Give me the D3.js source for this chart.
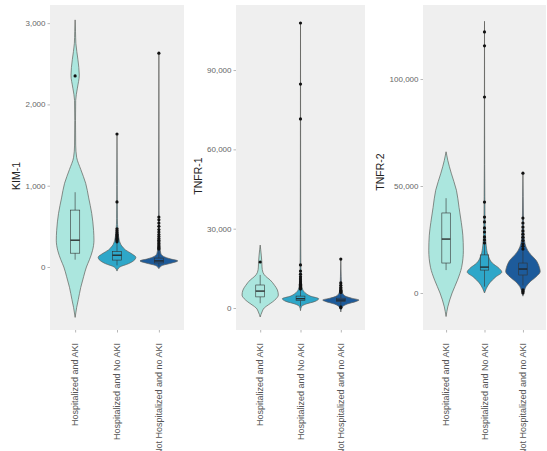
<!DOCTYPE html>
<html><head><meta charset="utf-8">
<script src="https://cdn.jsdelivr.net/npm/d3@7"></script>
<style>
html,body{margin:0;padding:0;background:#fff;}
svg{display:block;font-family:"Liberation Sans",Arial,sans-serif;}
</style></head>
<body>
<svg id="chart" width="547" height="451"></svg>
<script>
// ---------- DATA ----------
const categories = ["Hospitalized and AKI", "Hospitalized and No AKI", "Not Hospitalized and no AKI"];
const measures = ["KIM-1", "TNFR-1", "TNFR-2"];

// axis limits and ticks
const kim1Domain = [-775, 3223];
const tnfr1Domain = [-8320, 114600];
const tnfr2Domain = [-17300, 134600];
const kim1Ticks = [0, 1000, 2000, 3000];
const tnfr1Ticks = [0, 30000, 60000, 90000];
const tnfr2Ticks = [0, 50000, 100000];

// violin profiles: [value, relative density width]
const kim1Density = [
  [[-620,0],[-500,0.08],[-400,0.17],[-250,0.3],[-120,0.45],[0,0.6],[90,0.76],[200,0.92],[330,1.0],[450,0.98],[660,0.88],[850,0.72],[1030,0.56],[1200,0.3],[1350,0.08],[1500,0.03],[1800,0.02],[2050,0.03],[2200,0.12],[2360,0.22],[2550,0.15],[2750,0.04],[2900,0.02],[3040,0]],
  [[-50,0],[0,0.15],[40,0.6],[80,0.9],[120,1.0],[160,0.8],[210,0.45],[260,0.25],[330,0.12],[450,0.05],[600,0.02],[1000,0.01],[1636,0]],
  [[-20,0],[20,0.2],[50,0.7],[75,1.0],[100,0.6],[130,0.25],[170,0.1],[250,0.05],[400,0.02],[700,0.01],[2630,0]]
];
const tnfr1Density = [
  [[-3400,0],[-1500,0.1],[0,0.22],[1200,0.45],[2300,0.68],[3500,0.88],[4900,1.0],[6800,0.95],[8500,0.8],[10600,0.55],[12000,0.3],[13500,0.15],[15500,0.1],[17500,0.09],[20000,0.06],[22000,0.03],[23800,0]],
  [[-1000,0],[500,0.05],[1500,0.3],[2500,0.8],[3500,1.0],[4500,0.55],[5500,0.3],[7000,0.12],[9000,0.06],[12000,0.04],[16000,0.02],[30000,0.01],[107800,0]],
  [[-1500,0],[0,0.05],[1500,0.35],[2500,0.85],[3000,1.0],[3700,0.6],[4500,0.25],[6000,0.08],[8000,0.04],[12000,0.02],[18500,0]]
];
const tnfr2Density = [
  [[-11000,0],[-6500,0.1],[0,0.35],[6000,0.66],[12000,0.9],[20000,1.0],[27000,0.97],[33000,0.88],[40000,0.75],[48000,0.6],[56000,0.3],[62000,0.1],[66000,0]],
  [[0,0],[2000,0.1],[4700,0.3],[7500,0.65],[9800,1.0],[11500,0.85],[14000,0.45],[17800,0.2],[22000,0.1],[26000,0.06],[35000,0.03],[45000,0.02],[60000,0.01],[127000,0]],
  [[-1500,0],[1000,0.08],[3000,0.18],[5500,0.45],[7500,0.75],[10000,1.0],[12000,0.95],[15400,0.75],[18000,0.45],[20000,0.27],[23000,0.12],[27000,0.06],[35000,0.03],[45000,0.015],[56000,0]]
];

// boxplot stats: [lower whisker, q1, median, q3, upper whisker]
const kim1Box = [[90,170,330,700,920],[20,85,145,190,300],[10,50,75,110,200]];
const tnfr1Box = [[1800,4200,6400,8700,12500],[600,2800,3500,4500,7000],[1200,2500,3000,3700,5500]];
const tnfr2Box = [[10700,14000,25200,37400,44300],[3000,10700,12100,17800,23000],[3500,8400,11200,14000,19500]];

// outliers
const kim1Outliers = [
  [2350],
  [1636,800,470,445,420,400,385,370,355,340,325,310],
  [2630,615,580,540,500,460,430,400,375,350,330,310,290,270,250,235,220]
];
const tnfr1Outliers = [
  [17400],
  [107800,84700,71500,16300,14000,12800,11800,11000,10200,9500,9000,8500,8000,7600,7200],
  [18500,9500,8600,7800,7200,6700,6300,5900,400,100]
];
const tnfr2Outliers = [
  [],
  [122000,115500,91600,42500,35500,33200,30400,28500,26200,24800,23400],
  [56000,35000,32700,30800,29000,27500,26000,24500,23000,21800,20500,1500,700,0]
];

// ---------- STYLE / LAYOUT ----------
const fills = ["#abe6de", "#2ea7c9", "#1d5b9b"];
const panelBg = "#efefef";
const plotTop = 5, plotBottom = 330;
const panels = [
  {title: measures[0], x0: 50, x1: 184, titleX: 16, titleY: 176, domain: kim1Domain, ticks: kim1Ticks, dens: kim1Density, box: kim1Box, out: kim1Outliers},
  {title: measures[1], x0: 236, x1: 365, titleX: 198, titleY: 176, domain: tnfr1Domain, ticks: tnfr1Ticks, dens: tnfr1Density, box: tnfr1Box, out: tnfr1Outliers},
  {title: measures[2], x0: 423, x1: 546, titleX: 380, titleY: 172, domain: tnfr2Domain, ticks: tnfr2Ticks, dens: tnfr2Density, box: tnfr2Box, out: tnfr2Outliers}
];

const svg = d3.select("#chart");
const fmt = d3.format(",");

panels.forEach(p => {
  const g = svg.append("g");
  const x = d3.scalePoint().domain(categories).range([p.x0, p.x1]).padding(0.6);
  const y = d3.scaleLinear().domain(p.domain).range([plotBottom, plotTop]);
  const step = x.step();
  const hw = step * 0.45;
  const bw = step * 0.22;

  g.append("rect").attr("x", p.x0).attr("y", plotTop)
    .attr("width", p.x1 - p.x0).attr("height", plotBottom - plotTop).attr("fill", panelBg);

  // y axis
  const ya = g.append("g").attr("transform", `translate(${p.x0},0)`)
    .call(d3.axisLeft(y).tickValues(p.ticks).tickFormat(fmt).tickSize(2.5).tickPadding(2));
  ya.select(".domain").remove();
  ya.selectAll("line").attr("stroke", "#888").attr("stroke-width", 0.6);
  ya.selectAll("text").attr("fill", "#666").style("font-size", "8px");

  // x axis
  const xa = g.append("g").attr("transform", `translate(0,${plotBottom})`)
    .call(d3.axisBottom(x).tickSize(2.5).tickFormat(""));
  xa.select(".domain").remove();
  xa.selectAll("line").attr("stroke", "#888").attr("stroke-width", 0.6);
  categories.forEach(c => {
    g.append("text")
      .attr("transform", `translate(${x(c)},${plotBottom + 13}) rotate(-90)`)
      .attr("text-anchor", "end").attr("dy", "0.35em")
      .attr("fill", "#555").style("font-size", "9px").text(c);
  });

  // title
  g.append("text").attr("transform", `translate(${p.titleX},${p.titleY}) rotate(-90)`)
    .attr("text-anchor", "middle").attr("dy", "0.35em")
    .attr("fill", "#222").style("font-size", "10.5px").text(p.title);

  categories.forEach((c, i) => {
    const cx = x(c);
    const area = d3.area()
      .y(d => y(d[0]))
      .x0(d => cx - d[1] * hw)
      .x1(d => cx + d[1] * hw)
      .curve(d3.curveMonotoneY);
    g.append("path").attr("d", area(p.dens[i]))
      .attr("fill", fills[i]).attr("stroke", "#5f5f5a").attr("stroke-width", 0.7);

    const b = p.box[i];
    g.append("line").attr("x1", cx).attr("x2", cx).attr("y1", y(b[0])).attr("y2", y(b[1]))
      .attr("stroke", "#333").attr("stroke-width", 0.6);
    g.append("line").attr("x1", cx).attr("x2", cx).attr("y1", y(b[3])).attr("y2", y(b[4]))
      .attr("stroke", "#333").attr("stroke-width", 0.6);
    g.append("rect").attr("x", cx - bw / 2).attr("y", y(b[3]))
      .attr("width", bw).attr("height", y(b[1]) - y(b[3]))
      .attr("fill", "none").attr("stroke", "#333").attr("stroke-width", 0.6);
    g.append("line").attr("x1", cx - bw / 2).attr("x2", cx + bw / 2)
      .attr("y1", y(b[2])).attr("y2", y(b[2]))
      .attr("stroke", "#222").attr("stroke-width", 1.3);

    g.selectAll(null).data(p.out[i]).enter().append("circle")
      .attr("cx", cx).attr("cy", d => y(d)).attr("r", 1.6).attr("fill", "#111");
  });
});
</script>
</body></html>
